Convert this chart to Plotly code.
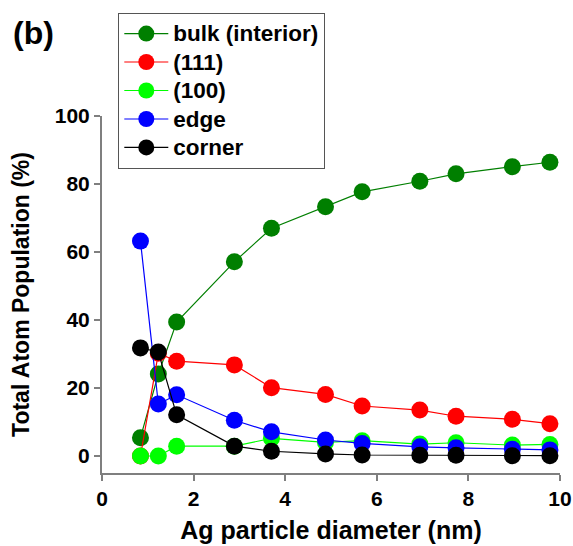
import plotly.graph_objects as go

diameter = [0.84, 1.23, 1.63, 2.89, 3.7, 4.88, 5.68, 6.94, 7.73, 8.96, 9.78]
bulk = [5.4, 24.1, 39.4, 57.1, 67.0, 73.3, 77.7, 80.8, 83.0, 85.1, 86.4]
f111 = [0.0, 30.2, 27.9, 26.8, 20.1, 18.1, 14.7, 13.5, 11.7, 10.8, 9.5]
f100 = [0.0, 0.0, 2.9, 2.9, 5.2, 4.0, 4.5, 3.5, 3.9, 3.2, 3.4]
edge = [63.2, 15.3, 18.0, 10.5, 7.1, 4.7, 3.7, 2.7, 2.4, 2.0, 1.8]
corner = [31.8, 30.6, 12.1, 2.9, 1.4, 0.6, 0.3, 0.2, 0.2, 0.1, 0.1]

series = [
    ("bulk (interior)", bulk, "#007F00"),
    ("(111)", f111, "#FF0000"),
    ("(100)", f100, "#00FF00"),
    ("edge", edge, "#0000FF"),
    ("corner", corner, "#000000"),
]

FONT = "Liberation Sans, Arial, sans-serif"
W, H = 573, 546
# plot area in window pixels: x 102..560, y 116..473
L, R, T, B = 102, 13, 116, 73
PW, PH = W - L - R, H - T - B

def px(xp):
    return (xp - L) / PW

def py(yp):
    return (H - B - yp) / PH

fig = go.Figure()
for name, vals, col in series:
    fig.add_trace(go.Scatter(
        x=diameter, y=vals, mode="lines+markers",
        name='<span style="font-size:22.5px">' + name + "</span>",
        line=dict(color=col, width=1.2),
        marker=dict(color=col, size=17),
    ))

fig.update_layout(
    width=W, height=H,
    margin=dict(l=L, r=R, t=T, b=B, autoexpand=False),
    paper_bgcolor="white", plot_bgcolor="white",
    font=dict(family=FONT, color="black"),
    showlegend=True,
    legend=dict(
        x=px(118), y=py(13), xref="paper", yref="paper",
        xanchor="left", yanchor="top",
        bordercolor="#555555", borderwidth=1.3, bgcolor="white",
        font=dict(family=FONT, size=19.6, color="black", weight="bold"),
        tracegroupgap=0, itemwidth=44,
    ),
    xaxis=dict(
        range=[0, 10], tickvals=[0, 2, 4, 6, 8, 10],
        showgrid=False, zeroline=False, automargin=False,
        showline=True, linecolor="#7f7f7f", linewidth=2,
        ticks="outside", ticklen=6, tickcolor="#7f7f7f", tickwidth=2,
        tickfont=dict(family=FONT, size=21, color="black", weight="bold"),
        title=dict(text="Ag particle diameter (nm)", standoff=12,
                   font=dict(family=FONT, size=25, color="black", weight="bold")),
    ),
    yaxis=dict(
        range=[-5, 100], tickvals=[0, 20, 40, 60, 80, 100],
        showgrid=False, zeroline=False, automargin=False,
        showline=True, linecolor="#7f7f7f", linewidth=2,
        ticks="outside", ticklen=6, tickcolor="#7f7f7f", tickwidth=2,
        tickfont=dict(family=FONT, size=21, color="black", weight="bold"),
        title=dict(text="Total Atom Population (%)", standoff=19,
                   font=dict(family=FONT, size=23, color="black", weight="bold")),
    ),
    annotations=[dict(
        text="(b)", x=px(11), y=py(13), xref="paper", yref="paper",
        xanchor="left", yanchor="top", showarrow=False,
        font=dict(family=FONT, size=32, color="black", weight="bold"),
    )],
)

fig.write_html(
    "out.html",
    config={"displayModeBar": False},
    post_script="document.body.style.margin='0';document.body.style.overflow='hidden';",
)
